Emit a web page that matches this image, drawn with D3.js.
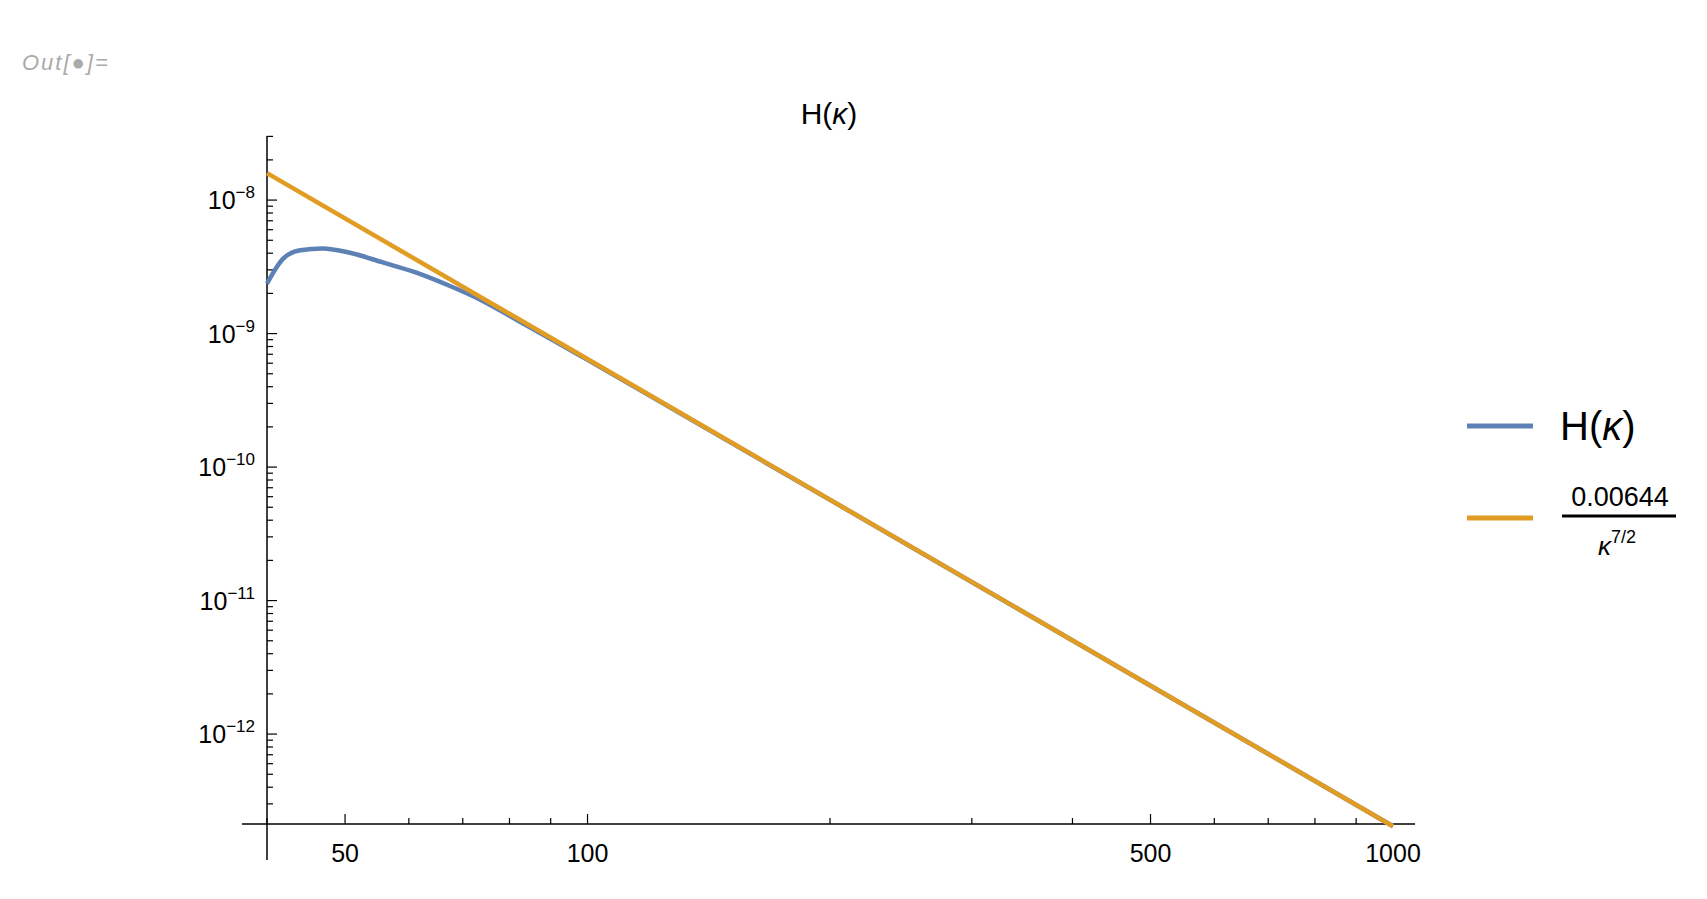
<!DOCTYPE html>
<html><head><meta charset="utf-8">
<script src="https://cdn.jsdelivr.net/npm/d3@7"></script>
<style>body{margin:0;background:#fff}text{font-family:"Liberation Sans",Arial,sans-serif}</style>
</head><body><svg id="c" width="1707" height="899"></svg>
<script>
const kBlue=[40,41.9,44,46.9,50.7,55.7,61.3,67.5,74.2,81.6,89.8,100,130,200,500,1000];
const hBlue=[2.37e-9,3.65e-9,4.21e-9,4.34e-9,4.03e-9,3.41e-9,2.86e-9,2.27e-9,1.75e-9,1.27e-9,9.2e-10,6.35e-10,2.55e-10,5.68e-11,2.30e-12,2.04e-13];
const kOrange=[40,1000];
const hOrange=[1.591e-8,2.04e-13];
const xTicks=[50,100,500,1000];
const yTicks=[1e-8,1e-9,1e-10,1e-11,1e-12];
const yExp=["−8","−9","−10","−11","−12"];

const svg=d3.select("#c");
const x=d3.scaleLog().domain([40,1000]).range([267,1393]);
const y=d3.scaleLog().domain([2.12e-13,3.02e-8]).range([824,136]);
svg.append("text").attr("x",22).attr("y",70).attr("fill","#aaa").attr("font-style","italic").attr("font-size",22).attr("letter-spacing",2).text("Out[\u25CF]=");
svg.append("text").attr("x",829).attr("y",124).attr("text-anchor","middle").attr("font-size",30).html('H(<tspan font-style="italic">κ</tspan>)');
// axes
svg.append("line").attr("x1",267).attr("x2",267).attr("y1",136).attr("y2",860).attr("stroke","#000").attr("stroke-width",1.5);
svg.append("line").attr("x1",242).attr("x2",1415).attr("y1",824).attr("y2",824).attr("stroke","#000").attr("stroke-width",1.5);
// x ticks
const xMinor=[];for(let d=10;d<=100;d*=10)for(let m=1;m<10;m++){const v=m*d;if(v>=40&&v<=1000)xMinor.push(v);}
xMinor.forEach(v=>{const maj=xTicks.includes(v);svg.append("line").attr("x1",x(v)).attr("x2",x(v)).attr("y1",824).attr("y2",824-(maj?10:6)).attr("stroke","#000").attr("stroke-width",1.2);});
xTicks.forEach(v=>svg.append("text").attr("x",x(v)).attr("y",862).attr("text-anchor","middle").attr("font-size",25).text(v));
// y ticks
for(let e=-13;e<=-8;e++)for(let m=1;m<10;m++){const v=m*Math.pow(10,e);if(v<2.12e-13||v>3.02e-8)continue;const maj=m===1;svg.append("line").attr("x1",267).attr("x2",267+(maj?10:6)).attr("y1",y(v)).attr("y2",y(v)).attr("stroke","#000").attr("stroke-width",1.2);}
yTicks.forEach((v,i)=>{const t=svg.append("text").attr("x",255).attr("y",y(v)+9).attr("text-anchor","end").attr("font-size",25);t.append("tspan").text("10");t.append("tspan").attr("dy",-11).attr("font-size",17).text(yExp[i]);});
const line=d3.line().x(d=>x(d[0])).y(d=>y(d[1])).curve(d3.curveMonotoneX);
svg.append("path").datum(kBlue.map((k,i)=>[k,hBlue[i]])).attr("d",line).attr("fill","none").attr("stroke","#5e81b5").attr("stroke-width",4.5);
svg.append("path").datum(kOrange.map((k,i)=>[k,hOrange[i]])).attr("d",line).attr("fill","none").attr("stroke","#e19c24").attr("stroke-width",4.5);
// legend
svg.append("line").attr("x1",1467).attr("x2",1533).attr("y1",426).attr("y2",426).attr("stroke","#5e81b5").attr("stroke-width",5);
svg.append("text").attr("x",1560).attr("y",440).attr("font-size",40).html('H(<tspan font-style="italic">κ</tspan>)');
svg.append("line").attr("x1",1467).attr("x2",1533).attr("y1",518).attr("y2",518).attr("stroke","#e19c24").attr("stroke-width",5);
svg.append("text").attr("x",1620).attr("y",506).attr("text-anchor","middle").attr("font-size",27).text("0.00644");
svg.append("line").attr("x1",1562).attr("x2",1676).attr("y1",516).attr("y2",516).attr("stroke","#000").attr("stroke-width",3);
const f=svg.append("text").attr("x",1598).attr("y",555).attr("font-size",26);
f.append("tspan").attr("font-style","italic").text("κ");
f.append("tspan").attr("dy",-12).attr("font-size",18).text("7/2");
</script></body></html>
